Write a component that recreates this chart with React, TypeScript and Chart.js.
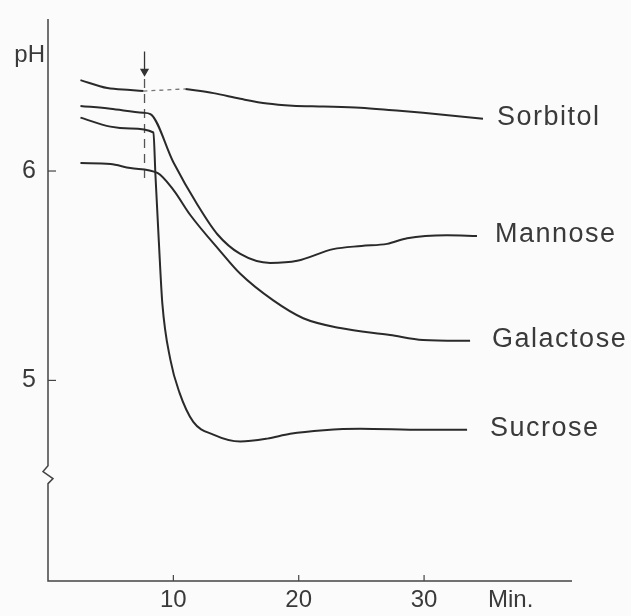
import React, { useEffect, useRef } from "react";
import { Chart, registerables } from "chart.js";

Chart.register(...registerables);

type P = [number, number];

// ---- data (minutes, pH) ----
const seriesLabels = ["Sorbitol", "Mannose", "Galactose", "Sucrose"];
const xTickValues = [10, 20, 30];
const yTickValues = [5, 6];

const X_MIN = 0;
const X_MAX = 41.8;
const Y_MIN = 4.042;
const Y_MAX = 6.726;

const additionTime = 7.7;
const arrowRange: P = [6.571, 6.476];
const markerRange: P = [6.44, 5.955];
const axisBreakPH = 4.55;

const sorbitolBefore: P[] = [
  [2.59, 6.434], [4.74, 6.396], [6.57, 6.387], [7.61, 6.382],
];
const sorbitolGap: P[] = [
  [7.61, 6.382], [10.96, 6.392],
];
const sorbitolAfter: P[] = [
  [10.96, 6.392], [13.2, 6.372], [15.34, 6.345], [17.49, 6.322], [19.5, 6.312],
  [22.0, 6.308], [24.9, 6.302], [27.5, 6.29], [29.92, 6.278], [34.7, 6.25],
];
const mannose: P[] = [
  [2.59, 6.311], [4.98, 6.297], [7.61, 6.278], [8.17, 6.272], [10.0, 6.042],
  [11.91, 5.84], [13.51, 5.698], [15.34, 5.604], [17.73, 5.561], [19.88, 5.571],
  [22.75, 5.627], [25.0, 5.642], [27.05, 5.652], [28.65, 5.679], [31.83, 5.693],
  [34.22, 5.69],
];
const galactose: P[] = [
  [2.59, 6.038], [4.98, 6.033], [6.57, 6.014], [8.73, 5.991], [10.0, 5.91],
  [11.35, 5.79], [13.7, 5.62], [15.34, 5.509], [17.97, 5.382], [20.36, 5.297],
  [23.31, 5.25], [27.29, 5.217], [29.92, 5.193], [33.67, 5.189],
];
const sucrose: P[] = [
  [2.59, 6.255], [4.98, 6.212], [6.57, 6.203], [8.41, 6.184], [8.57, 5.981],
  [8.84, 5.665], [9.12, 5.368], [9.76, 5.099], [10.48, 4.943], [11.59, 4.802],
  [13.19, 4.741], [15.34, 4.708], [17.49, 4.722], [19.32, 4.745], [22.0, 4.762],
  [24.9, 4.769], [29.92, 4.764], [33.43, 4.764],
];

const BG = "#fbfbfb";
const INK = "#2a2a2a";
const TEXT = "#3a3a3a";
const FONT = '"Liberation Sans", Arial, Helvetica, sans-serif';
const labelGap = [14, 18, 22, 23];

const toXY = (arr: P[]) => arr.map(([x, y]) => ({ x, y }));

const curve = (data: P[]) => ({
  data: toXY(data),
  borderColor: INK,
  borderWidth: 2,
  pointRadius: 0,
  fill: false,
  cubicInterpolationMode: "monotone" as const,
});

export default function App() {
  const ref = useRef<HTMLCanvasElement>(null);

  useEffect(() => {
    document.body.style.margin = "0";
    document.body.style.background = BG;
    const canvas = ref.current!;

    const decor = {
      id: "decor",
      beforeDraw(chart: any) {
        const { ctx, width, height } = chart;
        ctx.save();
        ctx.fillStyle = BG;
        ctx.fillRect(0, 0, width, height);
        ctx.restore();
      },
      afterDraw(chart: any) {
        const { ctx, chartArea } = chart;
        const xs = chart.scales.x;
        const ys = chart.scales.y;
        const { left, right, top, bottom } = chartArea;
        ctx.save();
        ctx.strokeStyle = "#444";
        ctx.lineWidth = 1.5;
        // y axis with break, and x axis
        const yb = ys.getPixelForValue(axisBreakPH);
        ctx.beginPath();
        ctx.moveTo(left, top);
        ctx.lineTo(left, yb - 9);
        ctx.lineTo(left - 5, yb - 3);
        ctx.lineTo(left + 5, yb + 4);
        ctx.lineTo(left, yb + 9);
        ctx.lineTo(left, bottom);
        ctx.lineTo(right, bottom);
        ctx.stroke();
        // inward ticks
        ctx.lineWidth = 1.2;
        yTickValues.forEach((v) => {
          const y = ys.getPixelForValue(v);
          ctx.beginPath();
          ctx.moveTo(left, y);
          ctx.lineTo(left + 8, y);
          ctx.stroke();
        });
        xTickValues.forEach((v) => {
          const x = xs.getPixelForValue(v);
          ctx.beginPath();
          ctx.moveTo(x, bottom);
          ctx.lineTo(x, bottom - 6);
          ctx.stroke();
        });
        // axis titles
        ctx.fillStyle = TEXT;
        ctx.font = `24px ${FONT}`;
        ctx.textBaseline = "middle";
        ctx.textAlign = "right";
        ctx.fillText("pH", left - 3, top + 36);
        ctx.textAlign = "left";
        ctx.textBaseline = "alphabetic";
        ctx.fillText("Min.", right - 84, bottom + 26);
        // curve labels
        const ends = [sorbitolAfter, mannose, galactose, sucrose];
        ctx.font = `27px ${FONT}`;
        (ctx as any).letterSpacing = "1.5px";
        ctx.textBaseline = "middle";
        ends.forEach((arr, i) => {
          const [lx, ly] = arr[arr.length - 1];
          const px = xs.getPixelForValue(lx);
          const py = ys.getPixelForValue(ly);
          ctx.fillText(seriesLabels[i], px + labelGap[i], py - 1);
        });
        ctx.restore();
      },
    };

    const chart = new Chart(canvas, {
      type: "line",
      data: {
        datasets: [
          curve(sorbitolBefore),
          {
            data: toXY(sorbitolGap),
            borderColor: "#777",
            borderWidth: 1.3,
            borderDash: [4, 4],
            pointRadius: 0,
            fill: false,
          },
          curve(sorbitolAfter),
          curve(mannose),
          curve(galactose),
          curve(sucrose),
          {
            data: [
              { x: additionTime, y: markerRange[0] },
              { x: additionTime, y: markerRange[1] },
            ],
            borderColor: "#555",
            borderWidth: 1.3,
            borderDash: [9, 6],
            pointRadius: 0,
            fill: false,
            tension: 0,
          },
          {
            data: [
              { x: additionTime, y: arrowRange[0] },
              { x: additionTime, y: arrowRange[1] },
            ],
            borderColor: "#333",
            backgroundColor: "#333",
            borderWidth: 1.3,
            pointRadius: [0, 4],
            pointStyle: "triangle",
            rotation: 180,
            fill: false,
            tension: 0,
          },
        ] as any,
      },
      options: {
        animation: false,
        responsive: false,
        events: [],
        layout: { padding: { top: 12, right: 59, left: 0, bottom: 0 } },
        plugins: {
          legend: { display: false },
          tooltip: { enabled: false },
        },
        scales: {
          x: {
            type: "linear",
            min: X_MIN,
            max: X_MAX,
            grid: { display: false },
            border: { display: false },
            ticks: {
              color: TEXT,
              font: { family: FONT, size: 24 },
              padding: -3,
              maxRotation: 0,
            },
            afterBuildTicks: (s: any) => {
              s.ticks = xTickValues.map((v) => ({ value: v }));
            },
            afterFit: (s: any) => {
              s.height = 35;
            },
          },
          y: {
            type: "linear",
            min: Y_MIN,
            max: Y_MAX,
            grid: { display: false },
            border: { display: false },
            ticks: {
              color: TEXT,
              font: { family: FONT, size: 25 },
              padding: 4,
            },
            afterBuildTicks: (s: any) => {
              s.ticks = yTickValues.map((v) => ({ value: v }));
            },
            afterFit: (s: any) => {
              s.width = 48;
            },
          },
        },
      } as any,
      plugins: [decor],
    });

    return () => chart.destroy();
  }, []);

  return (
    <div style={{ width: 631, height: 616, background: BG }}>
      <canvas ref={ref} width={631} height={616} style={{ display: "block" }} />
    </div>
  );
}
